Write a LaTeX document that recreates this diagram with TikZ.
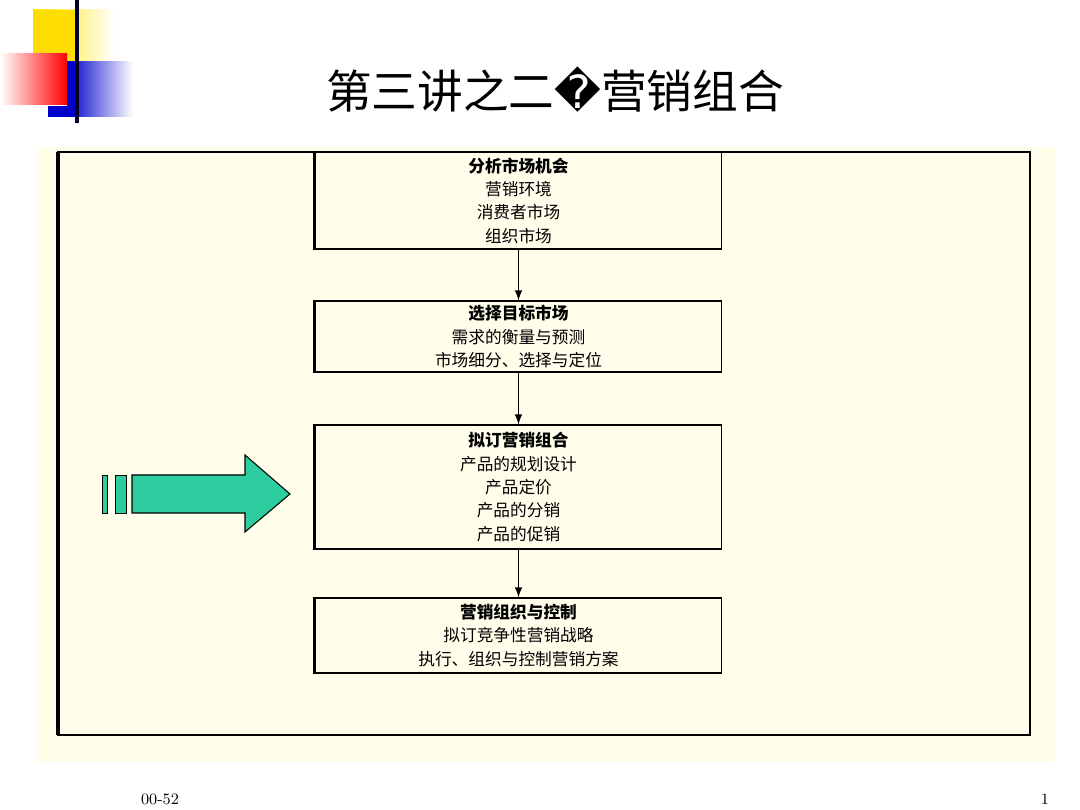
\documentclass[tikz,border=0pt]{standalone}
\usepackage{fontspec}
\usepackage{tikz}
\newfontfamily\cjk{Noto Sans CJK SC}
\newfontfamily\symf{DejaVu Sans}
\definecolor{arrowgreen}{RGB}{45,205,160}
\tikzset{
  stagebox/.style={draw,line width=0.6pt,minimum width=8.14cm,align=center,inner sep=0pt,font=\cjk\fontsize{9.5}{13.3}\selectfont},
  flow/.style={-latex,line width=1pt},
}
\begin{document}
\begin{tikzpicture}[x=0.02cm,y=-0.02cm]
        \useasboundingbox (0,0) rectangle (1080,810);
        % logo
        \shade[left color=yellow!80!orange,right color=white] (33,10) rectangle (115,62);
        \fill[yellow!80!orange] (33,10) rectangle (78,62);
        \shade[left color=white,right color=red] (0,54) rectangle (67,105);
        \shade[left color=blue!80!black,right color=white] (67,62) rectangle (133,117);
        \fill[blue!80!black] (48,106) rectangle (78,117);
        \fill[blue!80!black] (67,62) rectangle (78,106);
        \draw[line width=2.5pt,black!85!blue] (77,0) -- (77,123);
        % title
        \node (title) at (555,90) {\cjk\fontsize{26}{30}\selectfont 第三讲之二{\symf �}营销组合};
        % panel
        \fill[yellow!8] (38,147) rectangle (1055,762);
        \draw[line width=0.6pt] (58,152) rectangle (1030,735);
        \draw[line width=2pt] (58,152) -- (58,735);
        % stages
        \node[stagebox,minimum height=1.94cm] (s1) at (518.5,200.5) {\textbf{分析市场机会}\\营销环境\\消费者市场\\组织市场};
        \node[stagebox,minimum height=1.42cm] (s2) at (518.5,336.5) {\textbf{选择目标市场}\\需求的衡量与预测\\市场细分、选择与定位};
        \node[stagebox,minimum height=2.48cm] (s3) at (518.5,487) {\textbf{拟订营销组合}\\产品的规划设计\\产品定价\\产品的分销\\产品的促销};
        \node[stagebox,minimum height=1.5cm] (s4) at (518.5,635.5) {\textbf{营销组织与控制}\\拟订竞争性营销战略\\执行、组织与控制营销方案};
        \foreach \s in {s1,s2,s3,s4} \draw[line width=1.5pt] (\s.north west) -- (\s.south west);
        \draw[flow] (s1) -- (s2);
        \draw[flow] (s2) -- (s3);
        \draw[flow] (s3) -- (s4);
        % green arrow
        \draw[fill=arrowgreen,line width=0.6pt] (132,475) -- (245,475) -- (245,455) -- (290,494) -- (245,532) -- (245,513) -- (132,513) -- cycle;
        \draw[fill=arrowgreen] (102,475) rectangle (107,513);
        \draw[fill=arrowgreen] (115,475) rectangle (126,513);
        % footer
        \node (date) at (160,799) {\fontsize{9}{10}\selectfont 00-52};
        \node (page) at (1045,799) {\fontsize{9}{10}\selectfont 1};
    \end{tikzpicture}
\end{document}
